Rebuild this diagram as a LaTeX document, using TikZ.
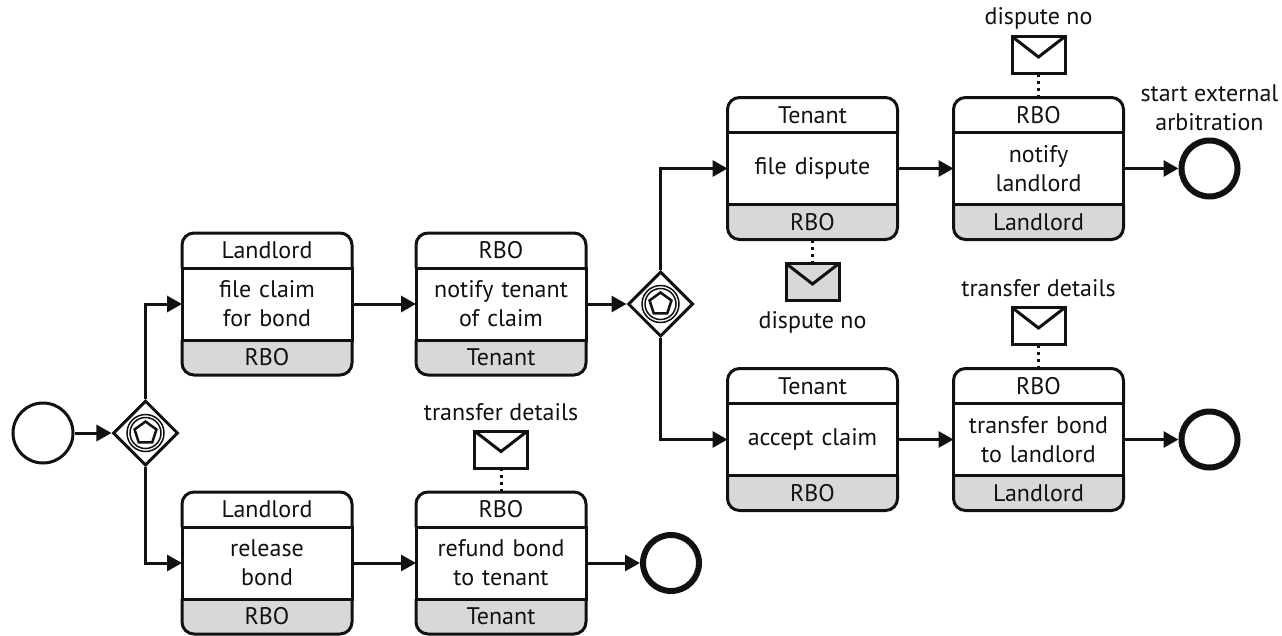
\documentclass[tikz,border=0pt]{standalone}
\usepackage{fontspec}
\setmainfont{PT Sans}
\usetikzlibrary{shapes.geometric,arrows.meta,positioning,backgrounds}

\definecolor{inkblack}{HTML}{111111}
\definecolor{bandgrey}{HTML}{D8D8D8}

% name, placement, top participant, task text, bottom participant
\newcommand{\choreotask}[5]{
    \node[taskbody, #2] (#1) {#4};
    \node[taskband, above=0pt of #1] (#1_head) {#3};
    \node[taskband, below=0pt of #1] (#1_foot) {#5};
    \begin{scope}[on background layer]
        \fill[bandgrey, rounded corners=12pt] (#1_foot.north west) -- (#1_foot.south west) -- (#1_foot.south east) -- (#1_foot.north east);
    \end{scope}
    \draw[taskedge] (#1_head.south west) -- (#1_head.north west) -- (#1_head.north east) -- (#1_head.south east);
    \draw[taskedge] (#1_foot.north west) -- (#1_foot.south west) -- (#1_foot.south east) -- (#1_foot.north east);
}

% rings and pentagon inside a gateway
\newcommand{\gatemark}[1]{
    \node[gatering, minimum size=37pt] (#1_outer) at (#1) {};
    \node[gatering, minimum size=31pt] (#1_inner) at (#1) {};
    \node[gatepenta] (#1_penta) at (#1) {};
}

\begin{document}
\begin{tikzpicture}[
    x=1pt, y=-1pt,
    font=\fontsize{24}{29}\selectfont,
    every node/.style={text=inkblack},
    taskbody/.style={rectangle, draw=inkblack, line width=3pt, outer sep=0pt, inner sep=0pt, minimum width=170pt, minimum height=72pt, text width=165pt, align=center},
    taskband/.style={rectangle, outer sep=0pt, inner sep=0pt, minimum width=170pt, minimum height=35pt},
    taskedge/.style={draw=inkblack, line width=3pt, rounded corners=12pt},
    startevent/.style={circle, draw=inkblack, line width=3pt, inner sep=0pt, minimum size=60pt},
    endevent/.style={circle, draw=inkblack, line width=6pt, inner sep=0pt, minimum size=56pt},
    gateway/.style={diamond, draw=inkblack, fill=white, line width=3pt, inner sep=0pt, minimum size=65pt},
    gatering/.style={circle, draw=inkblack, line width=1.5pt, inner sep=0pt},
    gatepenta/.style={regular polygon, regular polygon sides=5, draw=inkblack, line width=2.5pt, inner sep=0pt, minimum size=23pt},
    mail/.style={rectangle, draw=inkblack, line width=3pt, outer sep=0pt, inner sep=0pt, minimum width=53pt, minimum height=37pt,
        path picture={
            \draw[inkblack, line width=3pt] (path picture bounding box.north west) -- ([yshift=-2pt]path picture bounding box.center) -- (path picture bounding box.north east);
        }},
    arrow/.style={-{Triangle[length=15pt, width=16pt]}, draw=inkblack, line width=3pt},
    msgline/.style={draw=inkblack, line width=3pt, dash pattern=on 3pt off 4pt}
]
\useasboundingbox (0,0) rectangle (1282,635);

% Start
\node[startevent] (start_event) at (43,433) {};
\node[gateway, right=37pt of start_event] (first_gate) {};
\gatemark{first_gate}

% Claim branch
\choreotask{file_claim}{at={(267,304)}}{Landlord}{file claim\\for bond}{RBO}
\choreotask{notify_tenant}{right=64pt of file_claim}{RBO}{notify tenant\\of claim}{Tenant}
\node[gateway, right=40.5pt of notify_tenant] (second_gate) {};
\gatemark{second_gate}

% Dispute
\choreotask{file_dispute}{at={(812.5,168.5)}}{Tenant}{file dispute}{RBO}
\choreotask{notify_landlord}{right=56pt of file_dispute}{RBO}{notify\\landlord}{Landlord}
\node[endevent, right=55pt of notify_landlord] (arbitration_end) {};

% Accept
\choreotask{accept_claim}{at={(812.5,439.5)}}{Tenant}{accept claim}{RBO}
\choreotask{transfer_bond}{right=56pt of accept_claim}{RBO}{transfer bond\\to landlord}{Landlord}
\node[endevent, right=55pt of transfer_bond] (transfer_end) {};

% Release branch
\choreotask{release_bond}{at={(267,563)}}{Landlord}{release\\bond}{RBO}
\choreotask{refund_bond}{right=64pt of release_bond}{RBO}{refund bond\\to tenant}{Tenant}
\node[endevent, right=54pt of refund_bond] (refund_end) {};

% Messages
\node[mail, above=24pt of notify_landlord_head] (dispute_mail) {};
\node[mail, fill=bandgrey, below=24pt of file_dispute_foot] (filed_mail) {};
\node[mail, above=24pt of transfer_bond_head] (transfer_mail) {};
\node[mail, above=24pt of refund_bond_head] (refund_mail) {};

% Labels
\node[above=4pt of dispute_mail] (dispute_label) {dispute no};
\node[below=7pt of filed_mail] (filed_label) {dispute no};
\node[above=7pt of transfer_mail] (transfer_label) {transfer details};
\node[above=7pt of refund_mail] (refund_label) {transfer details};
\node[above=3pt of arbitration_end, align=center] (arbitration_label) {start external\\arbitration};

% Flow arrows
\draw[arrow] (start_event) -- (first_gate);
\draw[arrow] (first_gate.north) |- (file_claim.west);
\draw[arrow] (first_gate.south) |- (release_bond.west);
\draw[arrow] (file_claim) -- (notify_tenant);
\draw[arrow] (notify_tenant) -- (second_gate);
\draw[arrow] (second_gate.north) |- (file_dispute.west);
\draw[arrow] (second_gate.south) |- (accept_claim.west);
\draw[arrow] (file_dispute) -- (notify_landlord);
\draw[arrow] (notify_landlord) -- (arbitration_end);
\draw[arrow] (accept_claim) -- (transfer_bond);
\draw[arrow] (transfer_bond) -- (transfer_end);
\draw[arrow] (release_bond) -- (refund_bond);
\draw[arrow] (refund_bond) -- (refund_end);

% Message lines
\draw[msgline] (dispute_mail) -- (notify_landlord_head);
\draw[msgline] (filed_mail) -- (file_dispute_foot);
\draw[msgline] (transfer_mail) -- (transfer_bond_head);
\draw[msgline] (refund_mail) -- (refund_bond_head);

\end{tikzpicture}
\end{document}
